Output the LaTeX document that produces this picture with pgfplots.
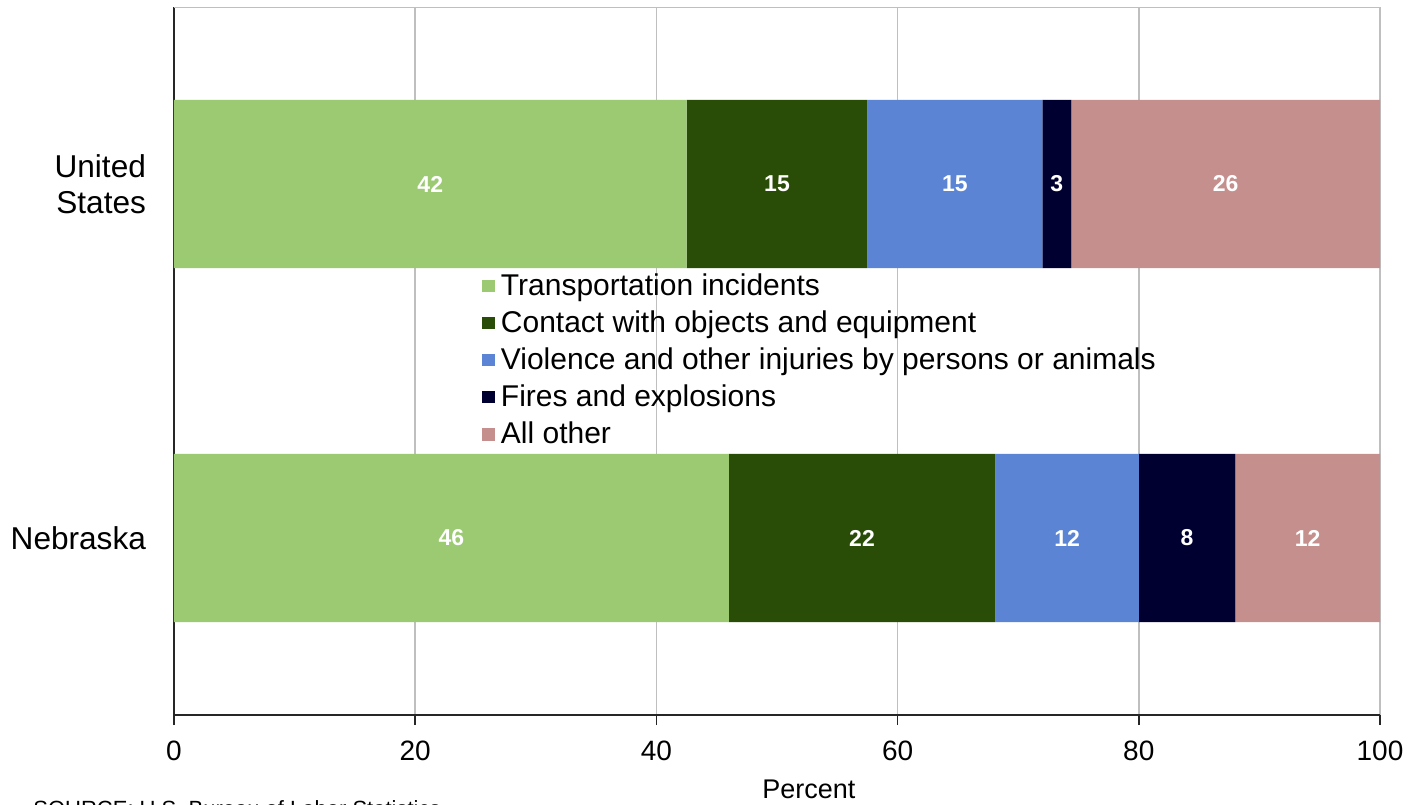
\documentclass[border=0pt]{standalone}
\usepackage{pgfplots}
\pgfplotsset{compat=1.18}
\usepackage{pgfplotstable}
\usepackage{fontspec}
\setmainfont{Liberation Sans}

\definecolor{tgreen}{RGB}{155,202,115}
\definecolor{dgreen}{RGB}{41,77,6}
\definecolor{vblue}{RGB}{91,132,213}
\definecolor{fnavy}{RGB}{0,0,48}
\definecolor{opink}{RGB}{196,143,141}

% y: 0 = Nebraska, 1 = United States
\pgfplotstableread{
y  trans contact viol fires other
0  46.0  22.1  11.9  8.0  12.0
1  42.5  15.0  14.5  2.4  25.6
}\bars

% label positions (segment midpoints) and printed values
\pgfplotstableread{
y  mid    lab
1  21.25  42
1  50.0   15
1  64.75  15
1  73.2   3
1  87.2   26
0  23.0   46
0  57.05  22
0  74.05  12
0  84.0   8
0  94.0   12
}\labels

\pgfplotsset{
  sq/.style={legend image code/.code={\fill[##1] (0pt,-3.2pt) rectangle (6.5pt,3.0pt);}},
  common/.style={
    width=603pt, height=354pt, scale only axis,
    xmin=0, xmax=100, ymin=-0.5, ymax=1.5,
  }
}

\begin{document}
\begin{tikzpicture}
\useasboundingbox (-87pt,-44.5pt) rectangle (622pt,357.5pt);
\begin{axis}[
  common,
  xbar stacked, bar width=0.475,
  axis x line*=bottom, axis y line*=left,
  axis line style={black!85, line width=1pt},
  xmajorgrids, grid style={gray!50, line width=0.8pt},
  xtick={0,20,40,60,80,100},
  ytick={0,1}, yticklabels={Nebraska,{United\\States}},
  tick align=outside, major tick length=5pt,
  xtick style={black!85, line width=0.8pt},
  ytick style={draw=none},
  /pgf/number format/assume math mode=true,
  yticklabel style={align=right, font=\fontsize{15.8}{18}\selectfont, xshift=-5.5pt},
  xticklabel style={font=\fontsize{14}{16}\selectfont, anchor=base, yshift=-17.5pt},
  xlabel={Percent},
  xlabel style={at={(rel axis cs:0.5265,0)}, anchor=base, yshift=-41.5pt, font=\fontsize{13.5}{15}\selectfont},
  legend style={at={(rel axis cs:0.255,0.629)}, anchor=north west, draw=none, fill=none,
    font=\fontsize{15}{18.5}\selectfont, row sep=3pt, inner sep=0pt,
    nodes={inner sep=1.6pt, inner xsep=3pt}},
  legend cell align=left,
]
\addplot[fill=tgreen, draw=none, sq] table[x=trans, y=y] {\bars};
\addlegendentry{Transportation incidents}
\addplot[fill=dgreen, draw=none, sq] table[x=contact, y=y] {\bars};
\addlegendentry{Contact with objects and equipment}
\addplot[fill=vblue, draw=none, sq] table[x=viol, y=y] {\bars};
\addlegendentry{Violence and other injuries by persons or animals}
\addplot[fill=fnavy, draw=none, sq] table[x=fires, y=y] {\bars};
\addlegendentry{Fires and explosions}
\addplot[fill=opink, draw=none, sq] table[x=other, y=y] {\bars};
\addlegendentry{All other}
\draw[gray!50, line width=1pt] (rel axis cs:0,1) -- (rel axis cs:1,1);
\end{axis}
\begin{axis}[common, hide axis]
\addplot[only marks, mark=none, nodes near coords, point meta=explicit symbolic,
  every node near coord/.append style={anchor=center, text=white,
    font=\bfseries\fontsize{11.5}{14}\selectfont}]
  table[x=mid, y=y, meta=lab] {\labels};
\end{axis}
\node[anchor=base west, inner sep=0pt, font=\fontsize{11}{13}\selectfont] at (-70.5pt,-50.5pt) {SOURCE: U.S. Bureau of Labor Statistics};
\end{tikzpicture}
\end{document}
